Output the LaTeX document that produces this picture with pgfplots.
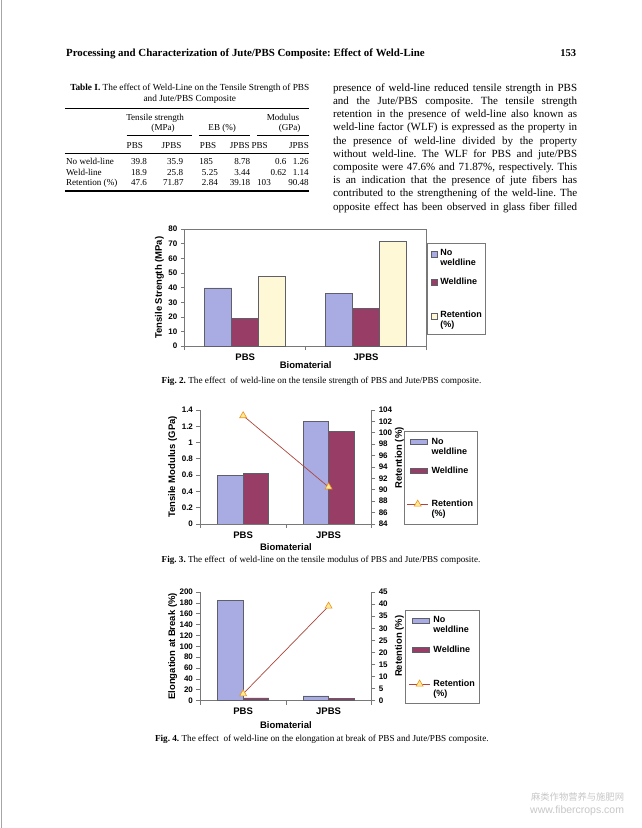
\documentclass[border=0pt]{standalone}
\usepackage{pgfplots}
\pgfplotsset{compat=1.18}
\usepackage{fontspec}
\setmainfont{Liberation Serif}
\newfontfamily\arial{Liberation Sans}
\newfontfamily\cjk{Noto Sans CJK SC}
\definecolor{nowd}{RGB}{168,172,226}
\definecolor{wd}{RGB}{152,62,102}
\definecolor{ret}{RGB}{255,248,214}
\definecolor{edgec}{RGB}{95,95,105}
\definecolor{axc}{RGB}{120,120,120}
\definecolor{retline}{RGB}{172,70,60}
\definecolor{triedge}{RGB}{235,145,30}
\definecolor{trifill}{RGB}{255,235,150}
\newcommand\tf{\fontsize{9.1}{10}\selectfont}
\newcommand\cf{\arial\bfseries\fontsize{9}{10}\selectfont}
\pgfplotsset{
 base/.style={
  scale only axis, xmin=0, xmax=2, ymin=0,
  xtick={0,1,2}, xticklabels={,,},
  extra x ticks={0.5,1.5}, extra x tick labels={PBS,JPBS},
  extra x tick style={major tick length=0pt},
  tick align=outside, major tick length=4pt,
  axis line style={draw=axc, line width=0.7pt},
  tick style={draw=axc, line width=0.7pt},
  yticklabel style={font=\arial\bfseries\fontsize{8}{9}\selectfont},
  xticklabel style={font=\arial\bfseries\fontsize{9.5}{10}\selectfont, yshift=-4pt},
  label style={font=\arial\bfseries\fontsize{9.5}{10}\selectfont},
  /pgf/number format/assume math mode=true,
  legend cell align=left,
 },
 sec/.style={
  scale only axis, xmin=0, xmax=2,
  axis x line=none, axis y line*=right,
  tick align=outside, major tick length=4pt,
  axis line style={draw=axc, line width=0.7pt},
  tick style={draw=axc, line width=0.7pt},
  yticklabel style={font=\arial\bfseries\fontsize{8}{9}\selectfont},
  label style={font=\arial\bfseries\fontsize{9.5}{10}\selectfont},
  /pgf/number format/assume math mode=true,
  legend cell align=left,
 },
 lstyle/.style={legend style={draw=axc, line width=0.7pt, fill=white, anchor=north west,
   inner xsep=3pt, column sep=2pt, font=\cf, nodes={inner sep=1pt, align=left}}},
 retimg/.style={legend image code/.code={%
   \draw[retline, line width=0.7pt] (0pt,4.5pt) -- (21pt,4.5pt);
   \draw[draw=none, mark=triangle*, mark size=4pt, mark options={draw=triedge, fill=trifill, solid, line width=0.6pt}] plot coordinates {(10.5pt,4.5pt)};
   \path (0pt,-8pt);}},
 nwimg/.style={legend image code/.code={\draw[fill=nowd,draw=edgec,line width=0.6pt] (3pt,2pt) rectangle (20pt,7pt); \path (0pt,-7pt) (21pt,7pt);}},
 wimg/.style={legend image code/.code={\draw[fill=wd,draw=edgec,line width=0.6pt] (3pt,-2.5pt) rectangle (20pt,2.5pt); \path (0pt,-3pt) (21pt,3pt);}},
}
\begin{document}
\frenchspacing
\begin{tikzpicture}[x=1pt,y=1pt]
\fill[white] (0,0) rectangle (642,-828);
\draw[black!35, line width=1pt] (2,0) -- (2,-828);
% header
\node[anchor=west, inner sep=0] at (66,-53) {\resizebox{359pt}{!}{\fontsize{10}{12}\selectfont\bfseries Processing and Characterization of Jute/PBS Composite: Effect of Weld-Line}};
\node[anchor=east, inner sep=0] at (577,-53) {\fontsize{10.5}{12}\selectfont\bfseries 153};
% table
\node[inner sep=0] at (190,-88.3) {\fontsize{9.3}{10}\selectfont\textbf{Table I.} The effect of Weld-Line on the Tensile Strength of PBS};
\node[inner sep=0] at (190,-99.3) {\fontsize{9.3}{10}\selectfont and Jute/PBS Composite};
\draw[line width=1.6pt] (65,-108.3) -- (309.3,-108.3);
\draw[line width=0.6pt] (126.7,-135) -- (192.7,-135);
\draw[line width=0.6pt] (199.3,-135) -- (250.7,-135);
\draw[line width=0.6pt] (257.3,-135) -- (309.3,-135);
\draw[line width=0.8pt] (65,-152.7) -- (309.3,-152.7);
\draw[line width=1.6pt] (65,-191) -- (309.3,-191);
\tikzset{tc/.style={inner sep=0, font=\tf, text height=6.3pt, text depth=1.8pt},
 tl/.style={tc, anchor=west}, tr/.style={tc, anchor=east}}
\node[tc] at (155.3,-117.7) {Tensile strength};
\node[tc] at (163.3,-128.3) {(MPa)};
\node[tc] at (222.5,-128.3) {EB (\%)};
\node[tc] at (283.3,-117.7) {Modulus};
\node[tc] at (290,-128.3) {(GPa)};
\node[tl] at (126.7,-146) {PBS};
\node[tl] at (161.7,-146) {JPBS};
\node[tl] at (200,-146) {PBS};
\node[tl] at (230,-146) {JPBS};
\node[tl] at (251.7,-146) {PBS};
\node[tl] at (289.3,-146) {JPBS};
\node[tl] at (66,-161.7) {No weld-line};
\node[tl] at (66,-172.7) {Weld-line};
\node[tl] at (66,-183.3) {Retention (\%)};
\node[tr] at (147.3,-161.7) {39.8};
\node[tr] at (147.3,-172.7) {18.9};
\node[tr] at (147.3,-183.3) {47.6};
\node[tr] at (183.5,-161.7) {35.9};
\node[tr] at (183.5,-172.7) {25.8};
\node[tr] at (184,-183.3) {71.87};
\node[tl] at (199.3,-161.7) {185};
\node[tr] at (218.3,-172.7) {5.25};
\node[tr] at (218.3,-183.3) {2.84};
\node[tr] at (250.7,-161.7) {8.78};
\node[tr] at (250.7,-172.7) {3.44};
\node[tr] at (250.7,-183.3) {39.18};
\node[tr] at (287,-161.7) {0.6};
\node[tr] at (287,-172.7) {0.62};
\node[tl] at (257.3,-183.3) {103};
\node[tr] at (309.3,-161.7) {1.26};
\node[tr] at (309.3,-172.7) {1.14};
\node[tr] at (309.3,-183.3) {90.48};
% body text
\tikzset{bt/.style={anchor=west, inner sep=0, text height=7.7pt, text depth=2.3pt}}
\newcommand\bl[2]{\node[bt] at (333.3,#1) {\fontsize{11}{13}\selectfont\frenchspacing\makebox[244.3pt][s]{#2}};}
\bl{-88.3}{presence of weld-line reduced tensile strength in PBS}
\bl{-101.5}{and the Jute/PBS composite. The tensile strength}
\bl{-114.7}{retention in the presence of weld-line also known as}
\bl{-127.9}{weld-line factor (WLF) is expressed as the property in}
\bl{-141.1}{the presence of weld-line divided by the property}
\bl{-154.3}{without weld-line. The WLF for PBS and jute/PBS}
\bl{-167.5}{composite were 47.6\% and 71.87\%, respectively. This}
\bl{-180.7}{is an indication that the presence of jute fibers has}
\bl{-193.9}{contributed to the strengthening of the weld-line. The}
\bl{-207.1}{opposite effect has been observed in glass fiber filled}
% captions
\node[anchor=west, inner sep=0] at (161.7,-381.7) {\resizebox{320pt}{!}{\fontsize{9}{10}\selectfont\textbf{Fig. 2.} The effect\enspace of weld-line on the tensile strength of PBS and Jute/PBS composite.}};
\node[anchor=west, inner sep=0] at (161.7,-560.7) {\resizebox{319pt}{!}{\fontsize{9}{10}\selectfont\textbf{Fig. 3.} The effect\enspace of weld-line on the tensile modulus of PBS and Jute/PBS composite.}};
\node[anchor=west, inner sep=0] at (155,-740) {\resizebox{334pt}{!}{\fontsize{9}{10}\selectfont\textbf{Fig. 4.} The effect\enspace of weld-line on the elongation at break of PBS and Jute/PBS composite.}};
% watermark
\node[anchor=east, inner sep=0, text=black!22] at (625,-797) {\cjk\fontsize{9.3}{10}\selectfont 麻类作物营养与施肥网};
\node[anchor=east, inner sep=0, text=black!22] at (625,-811) {\arial\fontsize{10.5}{11}\selectfont www.fibercrops.com};

% ---------- Fig 2 ----------
\begin{axis}[base, width=242pt, height=117pt, at={(185pt,-346pt)}, anchor=south west,
  ymax=80, ytick={0,10,20,30,40,50,60,70,80}, tick pos=left,
  ylabel={Tensile Strength (MPa)}, ylabel style={at={(axis description cs:-0.105,0.5)}, anchor=center},
  xlabel={Biomaterial}, xlabel style={at={(axis description cs:0.5,-0.162)}, anchor=center},
  lstyle, legend style={at={(1.004,0.880)}, row sep=9.3pt, inner ysep=4.8pt}]
\addplot[ybar, bar width=27pt, bar shift=-27pt, fill=nowd, draw=edgec, line width=0.6pt,
  legend image code/.code={\draw[fill=nowd,draw=edgec,line width=0.6pt] (0pt,0.5pt) rectangle (6pt,6.5pt); \path (0pt,-6.5pt);}]
  coordinates {(0.5,39.8) (1.5,35.9)};
\addlegendentry{No\\weldline}
\addplot[ybar, bar width=27pt, bar shift=0pt, fill=wd, draw=edgec, line width=0.6pt,
  legend image code/.code={\draw[fill=wd,draw=edgec,line width=0.6pt] (0pt,-3pt) rectangle (6pt,3pt);}]
  coordinates {(0.5,18.9) (1.5,25.8)};
\addlegendentry{Weldline}
\addlegendimage{empty legend}
\addlegendentry{\rule{0pt}{0.1pt}}
\addplot[ybar, bar width=27pt, bar shift=27pt, fill=ret, draw=edgec, line width=0.6pt,
  legend image code/.code={\draw[fill=ret,draw=edgec,line width=0.6pt] (0pt,0.5pt) rectangle (6pt,6.5pt); \path (0pt,-6.5pt);}]
  coordinates {(0.5,47.6) (1.5,71.87)};
\addlegendentry{Retention\\(\%)}
\end{axis}

% ---------- Fig 3 ----------
\begin{axis}[base, width=171pt, height=114pt, at={(200.7pt,-524pt)}, anchor=south west,
  axis x line*=bottom, axis y line*=left,
  ymax=1.4, ytick={0,0.2,0.4,0.6,0.8,1,1.2,1.4},
  ylabel={Tensile Modulus (GPa)}, ylabel style={at={(axis description cs:-0.162,0.5)}, anchor=center},
  xlabel={Biomaterial}, xlabel style={at={(axis description cs:0.5,-0.204)}, anchor=center}]
\addplot[ybar, bar width=25.5pt, bar shift=-12.75pt, fill=nowd, draw=edgec, line width=0.6pt] coordinates {(0.5,0.6) (1.5,1.26)};
\addplot[ybar, bar width=25.5pt, bar shift=12.75pt, fill=wd, draw=edgec, line width=0.6pt] coordinates {(0.5,0.62) (1.5,1.14)};
\end{axis}
\begin{axis}[sec, width=171pt, height=114pt, at={(200.7pt,-524pt)}, anchor=south west,
  ymin=84, ymax=104, ytick={84,86,88,90,92,94,96,98,100,102,104},
  ylabel={Retention (\%)}, ylabel style={at={(axis description cs:1.165,0.58)}, anchor=center},
  lstyle, legend style={at={(1.189,0.82)}, row sep=9.5pt, inner ysep=6pt}]
\addlegendimage{nwimg}
\addlegendentry{No\\weldline}
\addlegendimage{wimg}
\addlegendentry{Weldline}
\addlegendimage{empty legend}
\addlegendentry{\rule{0pt}{0.1pt}}
\addplot[retline, line width=0.7pt, mark=triangle*, mark size=4pt,
  mark options={draw=triedge, fill=trifill, solid, line width=0.6pt}, retimg]
  coordinates {(0.5,103) (1.5,90.48)};
\addlegendentry{Retention\\(\%)}
\end{axis}

% ---------- Fig 4 ----------
\begin{axis}[base, width=171pt, height=108.7pt, at={(200.7pt,-701pt)}, anchor=south west,
  axis x line*=bottom, axis y line*=left,
  ymax=200, ytick={0,20,40,60,80,100,120,140,160,180,200},
  ylabel={Elongation at Break (\%)}, ylabel style={at={(axis description cs:-0.162,0.5)}, anchor=center},
  xlabel={Biomaterial}, xlabel style={at={(axis description cs:0.5,-0.221)}, anchor=center}]
\addplot[ybar, bar width=25.5pt, bar shift=-12.75pt, fill=nowd, draw=edgec, line width=0.6pt] coordinates {(0.5,185) (1.5,8.78)};
\addplot[ybar, bar width=25.5pt, bar shift=12.75pt, fill=wd, draw=edgec, line width=0.6pt] coordinates {(0.5,5.25) (1.5,3.44)};
\end{axis}
\begin{axis}[sec, width=171pt, height=108.7pt, at={(200.7pt,-701pt)}, anchor=south west,
  ymin=0, ymax=45, ytick={0,5,10,15,20,25,30,35,40,45},
  ylabel={Retention (\%)}, ylabel style={at={(axis description cs:1.165,0.5)}, anchor=center},
  lstyle, legend style={at={(1.200,0.837)}, row sep=10pt, inner ysep=5.2pt}]
\addlegendimage{nwimg}
\addlegendentry{No\\weldline}
\addlegendimage{wimg}
\addlegendentry{Weldline}
\addlegendimage{empty legend}
\addlegendentry{\rule{0pt}{0.1pt}}
\addplot[retline, line width=0.7pt, mark=triangle*, mark size=4pt,
  mark options={draw=triedge, fill=trifill, solid, line width=0.6pt}, retimg]
  coordinates {(0.5,2.84) (1.5,39.18)};
\addlegendentry{Retention\\(\%)}
\end{axis}
\end{tikzpicture}
\end{document}
